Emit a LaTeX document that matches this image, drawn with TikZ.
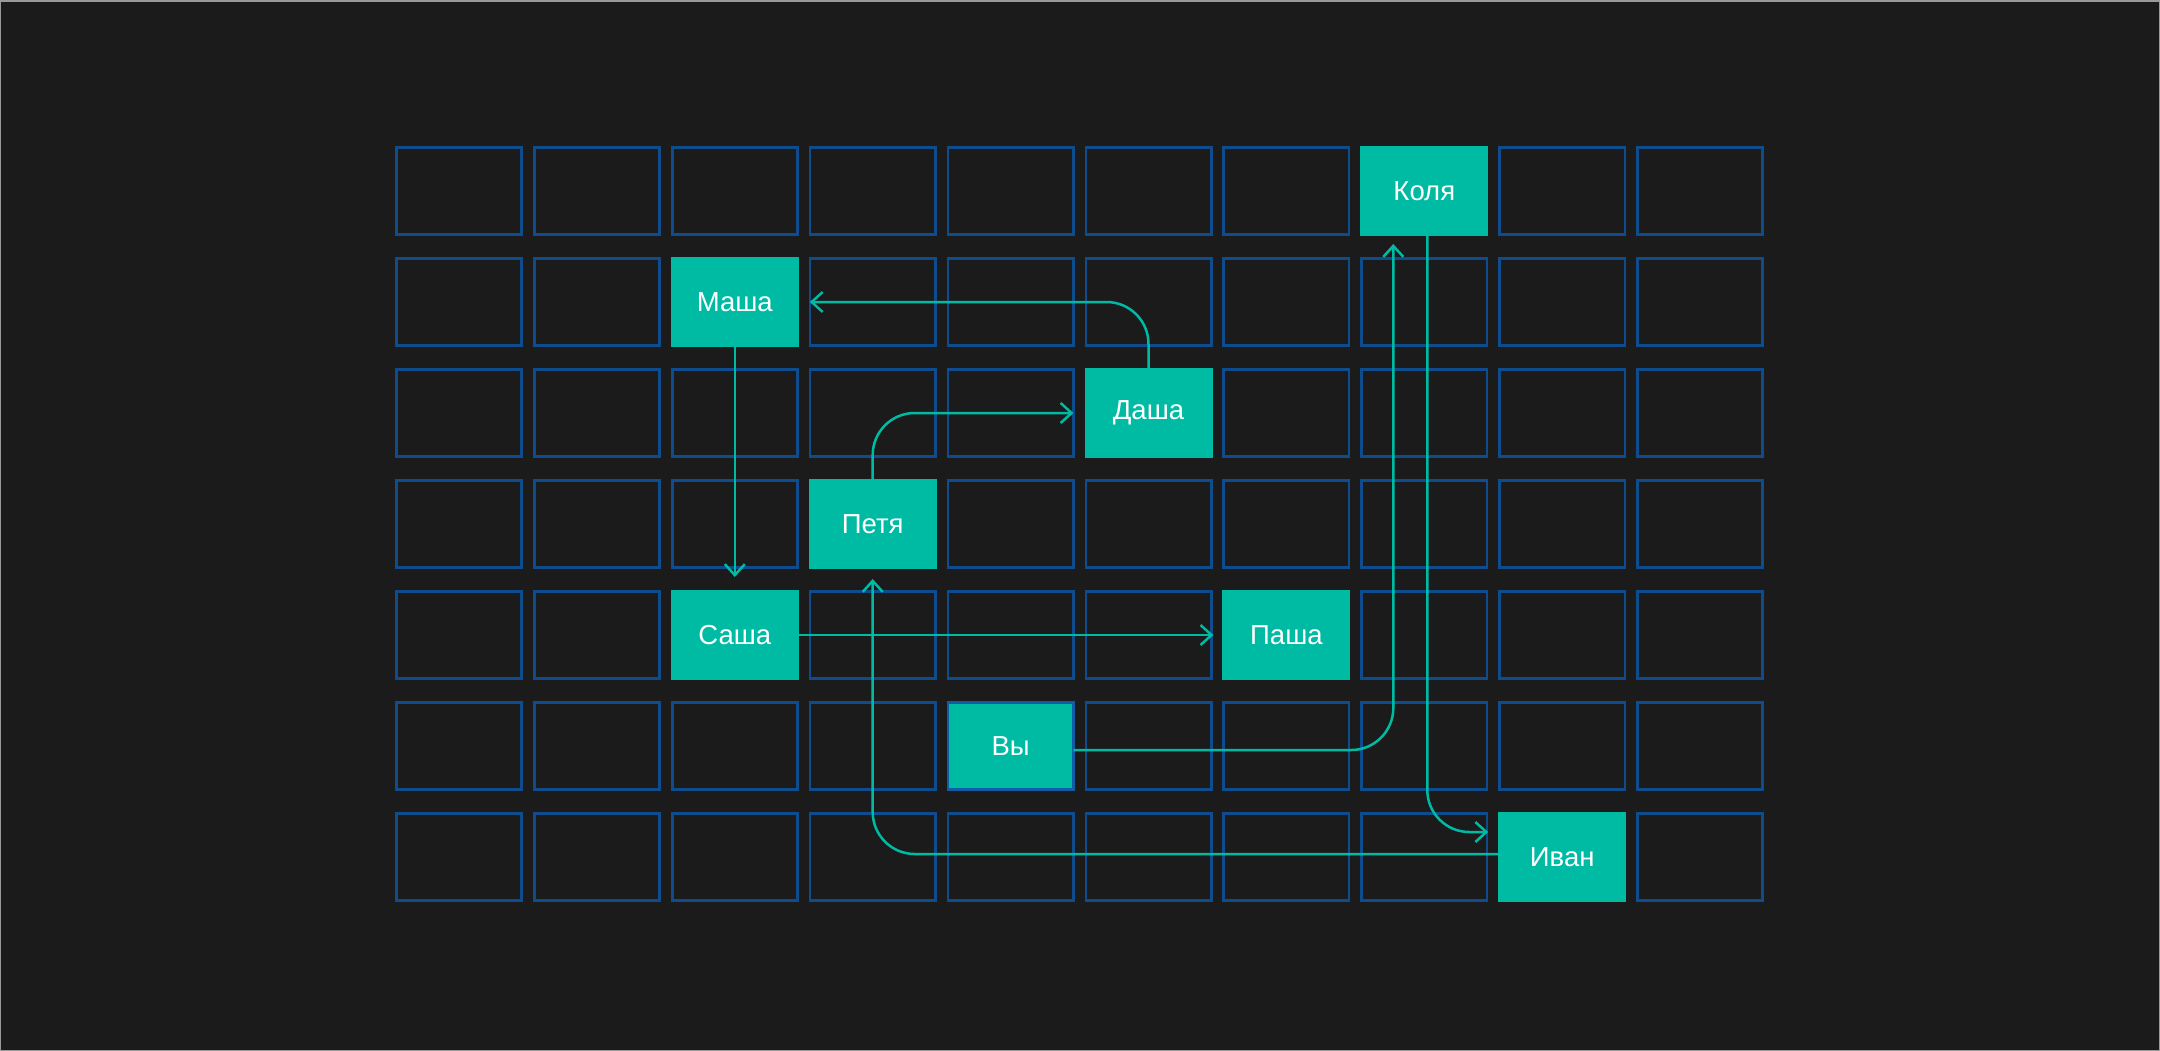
\documentclass[tikz,border=0pt]{standalone}
\usepackage{fontspec}
\setmainfont{Liberation Sans}
\usetikzlibrary{arrows.meta}
\definecolor{bgGray}{HTML}{1B1B1B}
\definecolor{frameGray}{HTML}{9A9A9A}
\definecolor{cellBlue}{HTML}{0E4C8E}
\definecolor{youBlue}{HTML}{105CA6}
\definecolor{seatTeal}{HTML}{00BBA4}
\newcommand*{\colMin}{0}
\newcommand*{\colMax}{9}
\newcommand*{\rowMin}{0}
\newcommand*{\rowMax}{6}

\begin{document}
\begin{tikzpicture}[x=137.9pt, y=-111pt,
    cell/.style={draw=cellBlue, line width=2.7pt, minimum width=125.3pt, minimum height=87.3pt, inner sep=0pt, outer sep=0pt},
    seat/.style={fill=seatTeal, text=white, minimum width=128pt, minimum height=90pt, inner sep=0pt, outer sep=0pt, font=\fontsize{27.5}{32}\selectfont},
    link/.style={draw=seatTeal, line width=2.5pt, rounded corners=42pt, -{Straight Barb[length=11pt, width=20pt]}}]

% background and frame
\coordinate (frameNW) at (-3.3285,-1.7207);
\coordinate (frameSE) at (12.3350,7.7477);
\useasboundingbox (frameNW) rectangle (frameSE);
\fill [bgGray] (frameNW) rectangle (frameSE);
\draw [frameGray, line width=1.5pt] ([shift={(0.75pt,-0.75pt)}]frameNW) rectangle ([shift={(-0.75pt,0.75pt)}]frameSE);

% empty seats
\foreach \i in {\colMin,...,\colMax} {
    \foreach \j in {\rowMin,...,\rowMax} {
        \node [cell] (c-\i-\j) at (\i,\j) {};
    }
}

% people
\node [seat] (kolya) at (7,0) {Коля};
\node [seat] (masha) at (2,1) {Маша};
\node [seat] (dasha) at (5,2) {Даша};
\node [seat] (petya) at (3,3) {Петя};
\node [seat] (sasha) at (2,4) {Саша};
\node [seat] (pasha) at (6,4) {Паша};
\node [seat, draw=youBlue, line width=2.7pt, minimum width=125.3pt, minimum height=87.3pt] (vy) at (4,5) {\raisebox{-4pt}{Вы}};
\node [seat] (ivan) at (8,6) {Иван};

% who passes to whom
\draw [link, shorten >=11pt] ([yshift=-2pt]dasha.north) |- (masha.east);
\draw [link, shorten >=11pt] (petya.north) |- (dasha.west);
\draw [link, shorten >=13pt] (masha.south) -- (sasha.north);
\draw [link, shorten >=9pt] (sasha.east) -- (pasha.west);
\draw [link, shorten >=8pt] ([yshift=-4pt]vy.east) -| ([xshift=-31pt]kolya.south);
\draw [link, shorten >=10pt] ([xshift=3pt]kolya.south) |- ([yshift=25pt]ivan.west);
\draw [link, shorten >=10pt] ([yshift=3pt]ivan.west) -| (petya.south);

\end{tikzpicture}
\end{document}
